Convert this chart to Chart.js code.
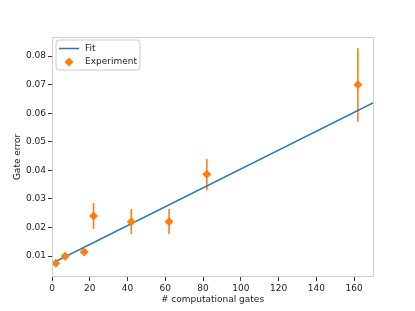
<!DOCTYPE html>
<html>
<head>
<meta charset="utf-8">
<script src="https://cdn.jsdelivr.net/npm/chart.js@4/dist/chart.umd.min.js"></script>
<style>
html,body{margin:0;padding:0;background:#fff;}
#wrap{width:415px;height:311px;position:relative;}
</style>
</head>
<body>
<div id="wrap"><canvas id="c" width="415" height="311"></canvas></div>
<script>
// ---- data ----
const gates = [2, 7, 17, 22, 42, 62, 82, 162];
const gateError = [0.0075, 0.0099, 0.0114, 0.0240, 0.0220, 0.0220, 0.0386, 0.0700];
const errLow  = [0.0075, 0.0099, 0.0114, 0.0195, 0.0177, 0.0177, 0.0331, 0.0570];
const errHigh = [0.0075, 0.0099, 0.0114, 0.0286, 0.0265, 0.0265, 0.0440, 0.0828];
const fitX = [0, 170];
const fitY = [0.0074, 0.0636];
const xTicks = [0, 20, 40, 60, 80, 100, 120, 140, 160];
const yTicks = [0.01, 0.02, 0.03, 0.04, 0.05, 0.06, 0.07, 0.08];

const BLUE = '#1f77b4', ORANGE = '#ff7f0e';
const FONT = 'DejaVu Sans';

const errorBars = {
  id: 'errorBars',
  beforeDatasetsDraw(chart) {
    const ctx = chart.ctx, xs = chart.scales.x, ys = chart.scales.y;
    ctx.save();
    ctx.strokeStyle = ORANGE; ctx.lineWidth = 1.6;
    gates.forEach((g, i) => {
      const px = xs.getPixelForValue(g);
      ctx.beginPath();
      ctx.moveTo(px, ys.getPixelForValue(errLow[i]));
      ctx.lineTo(px, ys.getPixelForValue(errHigh[i]));
      ctx.stroke();
    });
    ctx.restore();
  }
};

const frame = {
  id: 'frame',
  afterDraw(chart) {
    const a = chart.chartArea, ctx = chart.ctx;
    ctx.save();
    ctx.strokeStyle = '#d0d0d0'; ctx.lineWidth = 1;
    ctx.strokeRect(Math.round(a.left) + 0.5, Math.round(a.top) + 0.5, Math.round(a.right - a.left), Math.round(a.bottom - a.top) - 1);
    // legend
    const lx = 56, ly = 40, lw = 84, lh = 30, r = 3;
    ctx.fillStyle = 'rgba(255,255,255,0.8)';
    ctx.strokeStyle = '#cccccc';
    ctx.beginPath();
    ctx.moveTo(lx + r, ly); ctx.lineTo(lx + lw - r, ly); ctx.quadraticCurveTo(lx + lw, ly, lx + lw, ly + r);
    ctx.lineTo(lx + lw, ly + lh - r); ctx.quadraticCurveTo(lx + lw, ly + lh, lx + lw - r, ly + lh);
    ctx.lineTo(lx + r, ly + lh); ctx.quadraticCurveTo(lx, ly + lh, lx, ly + lh - r);
    ctx.lineTo(lx, ly + r); ctx.quadraticCurveTo(lx, ly, lx + r, ly);
    ctx.closePath(); ctx.fill(); ctx.stroke();
    ctx.strokeStyle = BLUE; ctx.lineWidth = 1.5;
    ctx.beginPath(); ctx.moveTo(59, 48.5); ctx.lineTo(79, 48.5); ctx.stroke();
    ctx.fillStyle = ORANGE;
    ctx.beginPath(); ctx.moveTo(69, 57.5); ctx.lineTo(73.5, 62); ctx.lineTo(69, 66.5); ctx.lineTo(64.5, 62); ctx.closePath(); ctx.fill();
    ctx.fillStyle = '#222'; ctx.font = '9px "' + FONT + '"'; ctx.textBaseline = 'middle'; ctx.textAlign = 'left';
    ctx.fillText(chart.data.datasets[0].label, 85, 48.5);
    ctx.fillText(chart.data.datasets[1].label, 85, 62);
    ctx.restore();
  }
};

new Chart(document.getElementById('c'), {
  data: {
    datasets: [
      { type: 'line', label: 'Fit', data: fitX.map((x, i) => ({x, y: fitY[i]})),
        borderColor: BLUE, borderWidth: 1.5, pointRadius: 0, fill: false, order: 2 },
      { type: 'scatter', label: 'Experiment', data: gates.map((x, i) => ({x, y: gateError[i]})),
        backgroundColor: ORANGE, borderColor: ORANGE, pointStyle: 'rectRot', pointRadius: 4.5, borderWidth: 0, order: 1 }
    ]
  },
  options: {
    responsive: false, animation: false,
    layout: { padding: { left: 0, top: 37, right: 42, bottom: 6 } },
    plugins: { legend: { display: false }, tooltip: { enabled: false } },
    scales: {
      x: {
        type: 'linear', min: 0, max: 170,
        afterBuildTicks: s => { s.ticks = xTicks.map(v => ({value: v})); },
        afterFit: s => { s.height = 28; },
        grid: { drawOnChartArea: false, drawTicks: true, tickLength: 4, color: '#333' },
        border: { display: false },
        ticks: { font: { family: FONT, size: 9 }, color: '#222', padding: 2, maxRotation: 0 },
        title: { display: true, text: '# computational gates', font: { family: FONT, size: 9 }, color: '#222', padding: { top: 1, bottom: 0 } }
      },
      y: {
        type: 'linear', min: 0.00265, max: 0.0867,
        afterBuildTicks: s => { s.ticks = yTicks.map(v => ({value: v})); },
        afterFit: s => { s.width = 52; },
        grid: { drawOnChartArea: false, drawTicks: true, tickLength: 4, color: '#333' },
        border: { display: false },
        ticks: { font: { family: FONT, size: 9 }, color: '#222', padding: 2, callback: v => v.toFixed(2) },
        title: { display: true, text: 'Gate error', font: { family: FONT, size: 9 }, color: '#222', padding: { top: 12, bottom: 0 } }
      }
    }
  },
  plugins: [errorBars, frame]
});
</script>
</body>
</html>
